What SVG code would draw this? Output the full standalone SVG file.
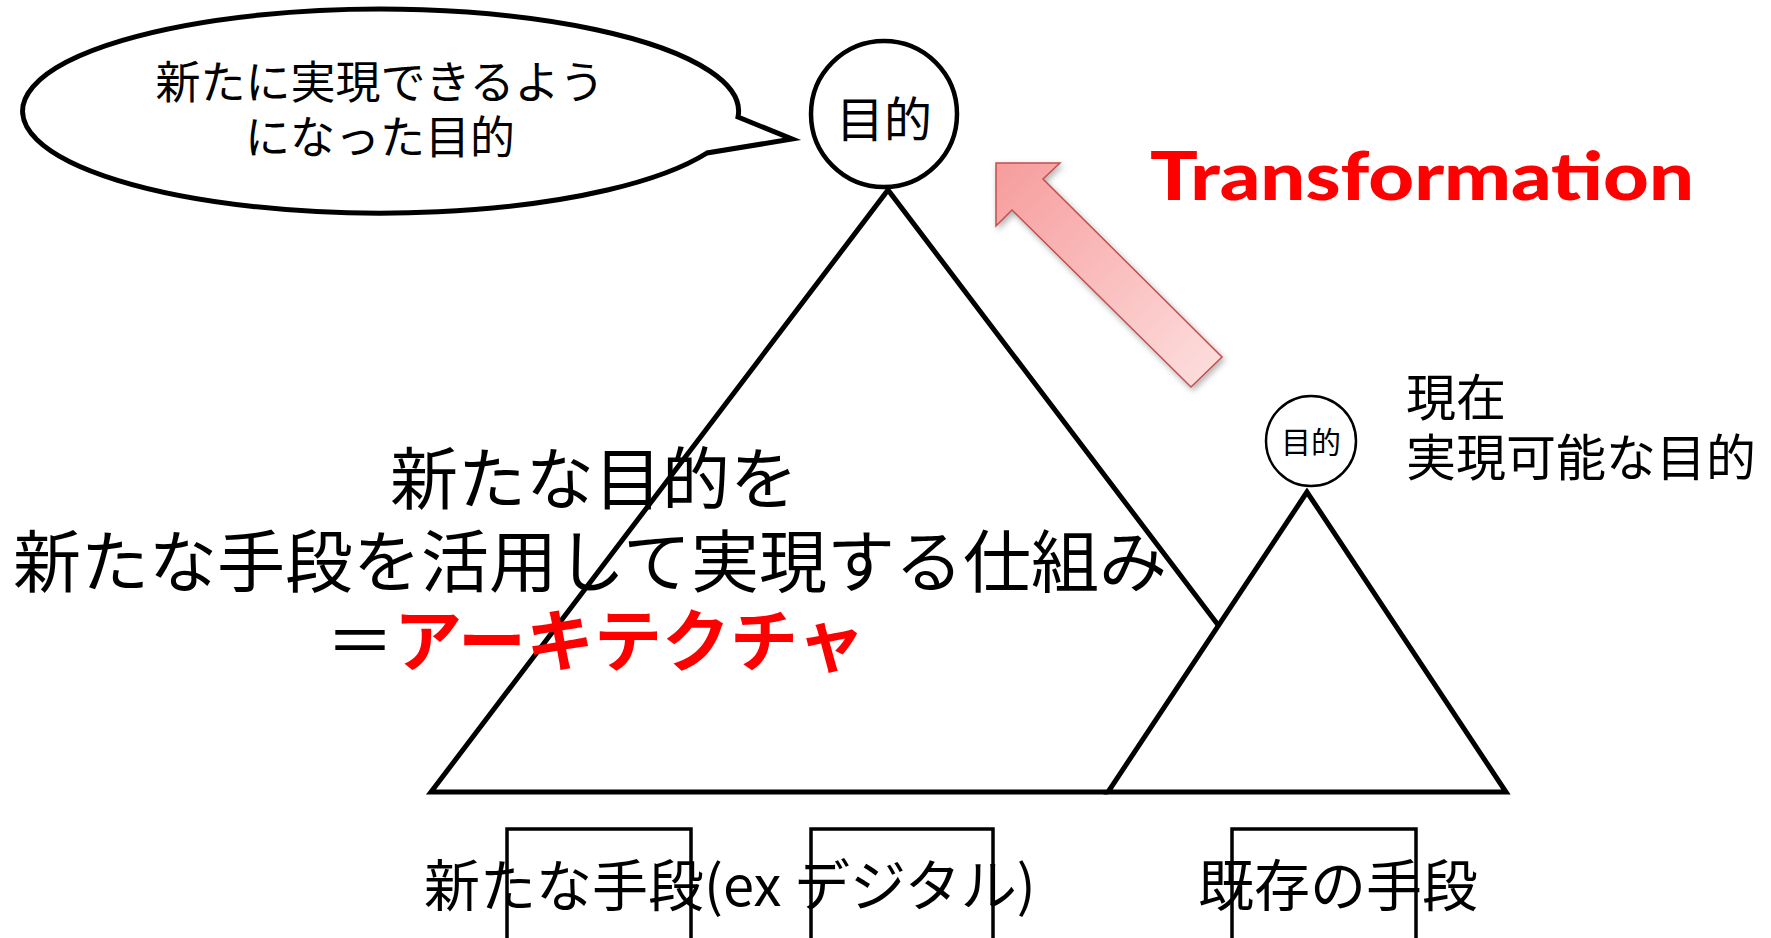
<svg xmlns="http://www.w3.org/2000/svg" width="1771" height="938" viewBox="0 0 1771 938">
  <style>
    .jp { font-family: "Noto Sans CJK JP", "Noto Sans", sans-serif; fill: #000; }
    .line { fill: none; stroke: #000; stroke-width: 5; stroke-linejoin: miter; }
    .thin { fill: #fff; stroke: #000; stroke-width: 2.5; }
    .box { fill: none; stroke: #000; stroke-width: 3.5; }
    .red { fill: #ff0000; }
  </style>
  <defs>
    <linearGradient id="pink" x1="0" y1="0" x2="1" y2="1">
      <stop offset="0" stop-color="#f79c9c"/>
      <stop offset="1" stop-color="#fde0e0"/>
    </linearGradient>
    <filter id="shadow" x="-20%" y="-20%" width="140%" height="140%">
      <feDropShadow dx="2" dy="3" stdDeviation="3" flood-color="#000" flood-opacity="0.3"/>
    </filter>
  </defs>

  <g id="speech-bubble">
    <path class="line" d="M 738,117 L 792,139 L 707,153 A 358 102 0 1 1 738,117 Z" style="fill:#fff"/>
    <text class="jp" x="380" y="99" font-size="45" text-anchor="middle">新たに実現できるよう</text>
    <text class="jp" x="380" y="154" font-size="45" text-anchor="middle">になった目的</text>
  </g>

  <g id="big-triangle">
    <polyline class="line" points="1218.5,625.4 888,190 431,792 1108,792"/>
  </g>

  <g id="small-triangle">
    <polygon class="line" points="1307,492 1108,792 1506,792"/>
  </g>

  <g id="goal-new">
    <circle cx="884" cy="114" r="73" fill="#fff" stroke="#000" stroke-width="4.5"/>
    <text class="jp" x="884" y="137" font-size="48" text-anchor="middle">目的</text>
  </g>

  <g id="goal-current">
    <ellipse class="thin" cx="1311" cy="441" rx="45" ry="45"/>
    <text class="jp" x="1311" y="453" font-size="30" text-anchor="middle">目的</text>
  </g>

  <g id="current-label">
    <text class="jp" x="1406" y="416" font-size="50">現在</text>
    <text class="jp" x="1406" y="476" font-size="50">実現可能な目的</text>
  </g>

  <g id="connectors">
    <polygon id="transform-arrow" points="996,163 1060,163 1043,179 1222,357 1191,387 1012,210 996,226" fill="url(#pink)" stroke="#c0504d" stroke-width="1.5" stroke-linejoin="miter" filter="url(#shadow)"/>
  </g>

  <g id="transformation-label">
    <text x="1150" y="200" font-family="Lato, 'Liberation Sans', sans-serif" font-weight="900" font-size="66" textLength="544" lengthAdjust="spacingAndGlyphs" class="red">Transformation</text>
  </g>

  <g id="architecture-text">
    <text class="jp" x="390" y="504" font-size="68">新たな目的を</text>
    <text class="jp" x="13" y="587" font-size="68">新たな手段を活用して実現する仕組み</text>
    <text class="jp" x="326" y="666" font-size="68">＝<tspan class="red" font-weight="bold">アーキテクチャ</tspan></text>
  </g>

  <g id="means-new">
    <text class="jp" x="424" y="906" font-size="56">新たな手段(ex デジタル)</text>
    <rect class="box" x="507" y="829" width="184" height="130"/>
    <rect class="box" x="811" y="829" width="182" height="130" stroke-width="4"/>
  </g>

  <g id="means-existing">
    <text class="jp" x="1198" y="906" font-size="56">既存の手段</text>
    <rect class="box" x="1232" y="829" width="184" height="130"/>
  </g>
</svg>
